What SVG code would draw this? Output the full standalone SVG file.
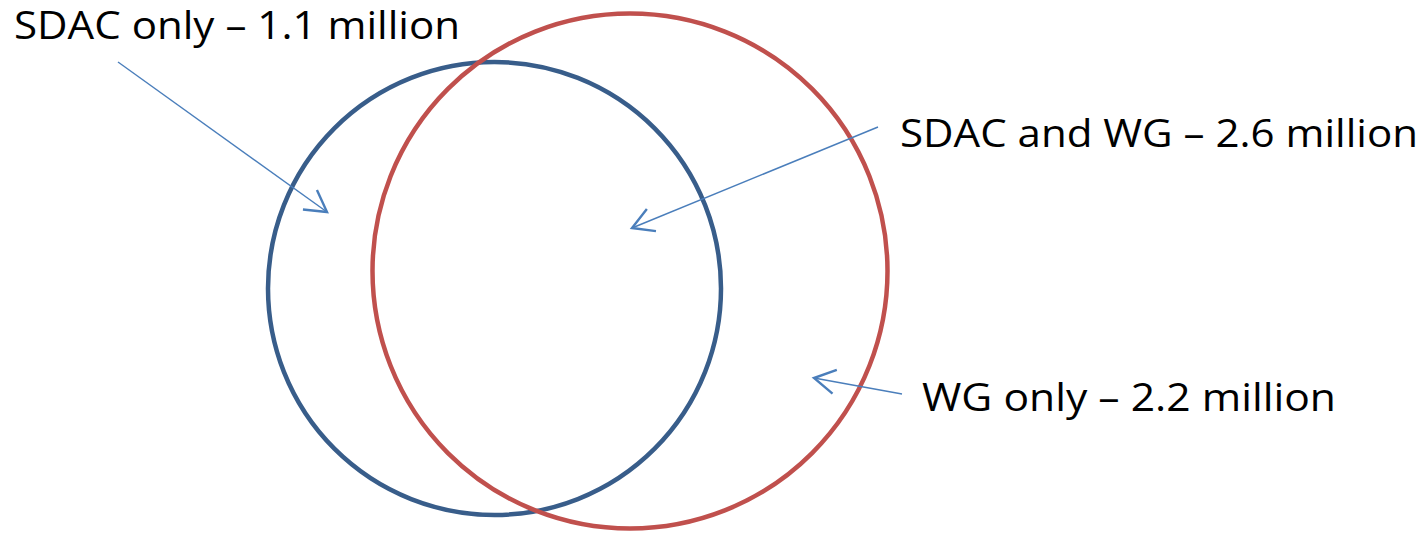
<svg xmlns="http://www.w3.org/2000/svg" width="1426" height="534" viewBox="0 0 1426 534">
<style>
.lbl{font-family:"Open Sans","Noto Sans","Liberation Sans",sans-serif;font-size:38px;fill:#000}
.conn{stroke:#4a7ebb;stroke-width:1.4;fill:none}
</style>
<defs>
<marker id="arr" markerUnits="userSpaceOnUse" markerWidth="30" markerHeight="30" refX="16" refY="10" orient="auto" viewBox="0 0 20 20">
<path d="M2,2 L16,10 L2,18" fill="none" stroke="#4a7ebb" stroke-width="1.6"/>
</marker>
</defs>
<rect width="1426" height="534" fill="#fff"/>
<g id="sdac"><circle cx="494.5" cy="288.5" r="226.5" fill="none" stroke="#385d8a" stroke-width="4.5"/></g>
<g id="wg"><circle cx="630" cy="271" r="257.5" fill="none" stroke="#c0504d" stroke-width="4.5"/></g>
<g id="label-sdac-only"><text class="lbl" x="14" y="39" textLength="446" lengthAdjust="spacingAndGlyphs">SDAC only – 1.1 million</text></g>
<g id="label-both"><text class="lbl" x="900" y="147" textLength="518" lengthAdjust="spacingAndGlyphs">SDAC and WG – 2.6 million</text></g>
<g id="label-wg-only"><text class="lbl" x="922" y="411" textLength="414" lengthAdjust="spacingAndGlyphs">WG only – 2.2 million</text></g>
<g id="connectors">
<line class="conn" x1="118" y1="62" x2="327" y2="212" marker-end="url(#arr)"/>
<line class="conn" x1="878" y1="127" x2="632" y2="228" marker-end="url(#arr)"/>
<line class="conn" x1="902" y1="394" x2="814" y2="378" marker-end="url(#arr)"/>
</g>
</svg>
